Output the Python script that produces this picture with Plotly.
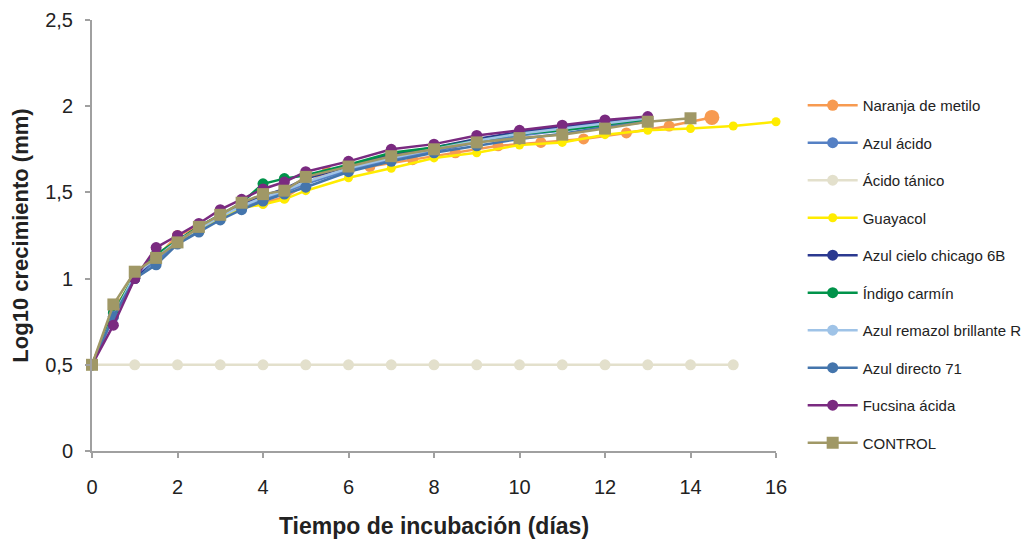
import plotly.graph_objects as go

# ---- data ----
t_std = [0, 0.5, 1, 1.5, 2, 2.5, 3, 3.5, 4, 4.5, 5, 6, 7, 8, 9, 10, 11, 12, 13, 14]
t_to13 = t_std[:-1]
t_naranja = [0, 0.5, 1, 1.5, 2, 2.5, 3, 3.5, 4, 4.5, 5.5, 6.5, 7.5, 8.5, 9.5, 10.5, 11.5, 12.5, 13.5, 14.5]
t_tanico = list(range(0, 16))
t_guayacol = [0, 0.5, 1, 1.5, 2, 2.5, 3, 3.5, 4, 4.5, 5, 6, 7, 8, 9, 10, 11, 12, 13, 14, 15, 16]

naranja = [0.5, 0.82, 1.00, 1.12, 1.25, 1.30, 1.36, 1.42, 1.44, 1.47, 1.62, 1.65, 1.69, 1.73, 1.77, 1.79, 1.81, 1.845, 1.885, 1.935]
azul_acido = [0.5, 0.80, 1.01, 1.10, 1.21, 1.28, 1.35, 1.41, 1.46, 1.50, 1.55, 1.63, 1.69, 1.74, 1.79, 1.83, 1.86, 1.89, 1.92]
tanico = [0.5] * 16
guayacol = [0.5, 0.80, 1.02, 1.12, 1.22, 1.29, 1.35, 1.41, 1.43, 1.46, 1.51, 1.585, 1.64, 1.70, 1.73, 1.775, 1.79, 1.835, 1.86, 1.87, 1.885, 1.91]
cielo = [0.5, 0.78, 1.00, 1.13, 1.22, 1.30, 1.37, 1.43, 1.48, 1.52, 1.58, 1.65, 1.72, 1.76, 1.81, 1.85, 1.88, 1.91, 1.93]
indigo = [0.5, 0.80, 1.02, 1.14, 1.22, 1.30, 1.37, 1.44, 1.55, 1.58, 1.60, 1.66, 1.73, 1.76, 1.80, 1.84, 1.86, 1.89, 1.92]
remazol = [0.5, 0.78, 1.02, 1.12, 1.22, 1.29, 1.36, 1.42, 1.47, 1.51, 1.56, 1.64, 1.70, 1.75, 1.80, 1.84, 1.87, 1.90, 1.93]
directo = [0.5, 0.78, 1.00, 1.08, 1.20, 1.27, 1.34, 1.40, 1.45, 1.49, 1.53, 1.62, 1.68, 1.73, 1.77, 1.81, 1.84, 1.88, 1.91]
fucsina = [0.5, 0.73, 1.00, 1.18, 1.25, 1.32, 1.40, 1.46, 1.52, 1.56, 1.62, 1.68, 1.75, 1.78, 1.83, 1.86, 1.89, 1.92, 1.94]
control = [0.5, 0.85, 1.04, 1.12, 1.21, 1.30, 1.37, 1.44, 1.49, 1.51, 1.59, 1.65, 1.71, 1.75, 1.79, 1.815, 1.835, 1.87, 1.91, 1.93]

series = [
    ("Naranja de metilo", t_naranja, naranja, "#F79A50", "circle", 11),
    ("Azul ácido", t_to13, azul_acido, "#5580C4", "circle", 11),
    ("Ácido tánico", t_tanico, tanico, "#E3E0CC", "circle", 11),
    ("Guayacol", t_guayacol, guayacol, "#FFEC00", "circle", 9),
    ("Azul cielo chicago 6B", t_to13, cielo, "#2B3990", "circle", 11),
    ("Índigo carmín", t_to13, indigo, "#00934A", "circle", 11),
    ("Azul remazol brillante R", t_to13, remazol, "#9FC3E7", "circle", 11),
    ("Azul directo 71", t_to13, directo, "#4475AC", "circle", 11),
    ("Fucsina ácida", t_to13, fucsina, "#7A2A80", "circle", 11),
    ("CONTROL", t_std, control, "#A09866", "square", 12),
]

fig = go.Figure()
for i, (name, x, y, color, sym, size) in enumerate(series):
    sizes = [size] * len(x)
    if name == "Naranja de metilo":
        sizes[-1] = 15
    fig.add_trace(go.Scatter(
        x=x, y=y, name=name, mode="lines+markers",
        line=dict(color=color, width=2.5),
        marker=dict(color=color, symbol=sym, size=sizes, opacity=1,
                    line=dict(width=0, color=color)),
        cliponaxis=False, legendgroup="g%d" % i,
    ))

fig.update_layout(
    width=1023, height=539,
    margin=dict(l=92, r=247, t=20, b=88, autoexpand=False),
    paper_bgcolor="white", plot_bgcolor="white",
    separators=",.",
    font=dict(family="Liberation Sans, Arial, sans-serif", color="#222222"),
    showlegend=True,
    legend=dict(
        x=1.039, xanchor="left", y=0.840, yanchor="top",
        font=dict(size=15, color="#222222"),
        tracegroupgap=15, itemwidth=50,
        bgcolor="rgba(0,0,0,0)",
    ),
    xaxis=dict(
        range=[0, 16], dtick=2, tick0=0, automargin=False,
        showgrid=False, zeroline=False,
        showline=True, linecolor="#A0A0A0", linewidth=2,
        ticks="outside", ticklen=5, tickcolor="#A0A0A0", tickwidth=1.5,
        tickfont=dict(size=20, color="#222222"),
        ticklabelstandoff=12,
        title=dict(text="<b>Tiempo de incubación (días)</b>", font=dict(size=23, color="#222222"), standoff=25),
    ),
    yaxis=dict(
        range=[0, 2.5], dtick=0.5, tick0=0, automargin=False,
        showgrid=False, zeroline=False,
        showline=True, linecolor="#A0A0A0", linewidth=2,
        ticks="outside", ticklen=5, tickcolor="#A0A0A0", tickwidth=1.5,
        tickfont=dict(size=20, color="#222222"),
        ticklabelstandoff=8,
        title=dict(text="<b>Log10 crecimiento (mm)</b>", font=dict(size=22, color="#222222"), standoff=10),
    ),
)

fig.write_html("out.html")
